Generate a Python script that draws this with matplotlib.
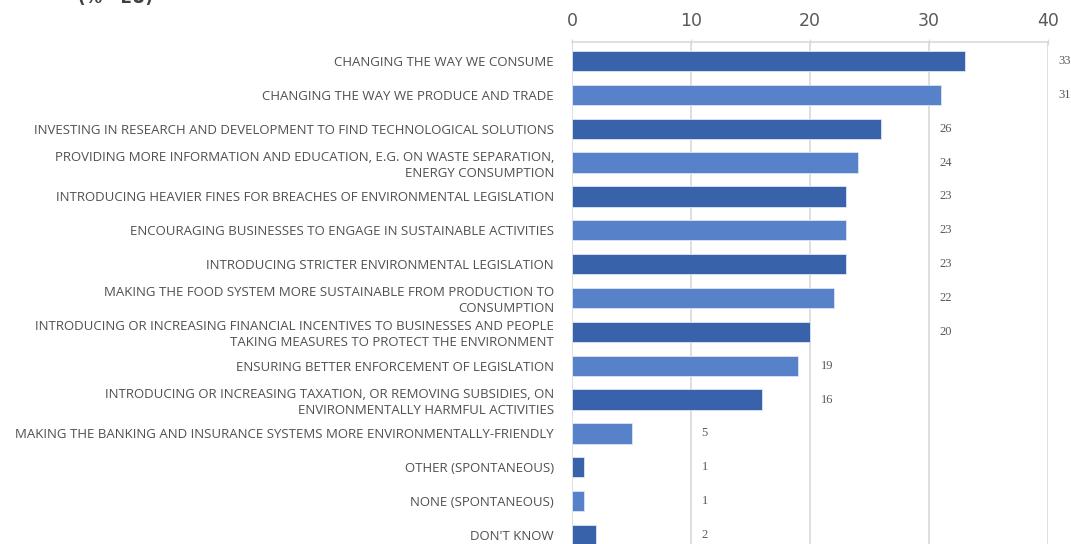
import matplotlib.pyplot as plt
import numpy as np

CATEGORIES = [
    "CHANGING THE WAY WE CONSUME",
    "CHANGING THE WAY WE PRODUCE AND TRADE",
    "INVESTING IN RESEARCH AND DEVELOPMENT TO FIND TECHNOLOGICAL SOLUTIONS",
    "PROVIDING MORE INFORMATION AND EDUCATION, E.G. ON WASTE SEPARATION,\nENERGY CONSUMPTION",
    "INTRODUCING HEAVIER FINES FOR BREACHES OF ENVIRONMENTAL LEGISLATION",
    "ENCOURAGING BUSINESSES TO ENGAGE IN SUSTAINABLE ACTIVITIES",
    "INTRODUCING STRICTER ENVIRONMENTAL LEGISLATION",
    "MAKING THE FOOD SYSTEM MORE SUSTAINABLE FROM PRODUCTION TO\nCONSUMPTION",
    "INTRODUCING OR INCREASING FINANCIAL INCENTIVES TO BUSINESSES AND PEOPLE\nTAKING MEASURES TO PROTECT THE ENVIRONMENT",
    "ENSURING BETTER ENFORCEMENT OF LEGISLATION",
    "INTRODUCING OR INCREASING TAXATION, OR REMOVING SUBSIDIES, ON\nENVIRONMENTALLY HARMFUL ACTIVITIES",
    "MAKING THE BANKING AND INSURANCE SYSTEMS MORE ENVIRONMENTALLY-FRIENDLY",
    "OTHER (SPONTANEOUS)",
    "NONE (SPONTANEOUS)",
    "DON'T KNOW",
]
VALUES = [33, 31, 26, 24, 23, 23, 23, 22, 20, 19, 16, 5, 1, 1, 2]
X_TICKS = [0, 10, 20, 30, 40]
TITLE = "(% - EU)"

DARK = "#3863ab"
LIGHT = "#5782ca"
TEXT = "#505050"

fig = plt.figure(figsize=(10.71, 5.44), dpi=100)
ax = fig.add_axes([572 / 1071, -10 / 544, 476 / 1071, 512 / 544])

y = np.arange(len(VALUES))
colors = [DARK if i % 2 == 0 else LIGHT for i in y]
ax.barh(y, VALUES, height=0.6, color=colors, edgecolor="#dce6f4", linewidth=0.6, zorder=3)

ax.set_xlim(0, 40)
ax.set_ylim(len(VALUES) - 1 + 0.56, -0.56)
ax.xaxis.tick_top()
ax.set_xticks(X_TICKS)
ax.tick_params(axis="x", colors="#d9d9d9", labelcolor="#595959", labelsize=12.5, length=4,
               direction="inout", pad=7)
ax.grid(axis="x", color="#d9d9d9", linewidth=1.2, zorder=0)
for side in ("left", "right", "bottom"):
    ax.spines[side].set_visible(False)
ax.spines["top"].set_color("#d9d9d9")
ax.spines["top"].set_linewidth(1.2)

ax.set_yticks(y)
ax.set_yticklabels(CATEGORIES, fontsize=9.5, color=TEXT, family="Open Sans", linespacing=1.25)
ax.tick_params(axis="y", length=0, pad=13)
for lbl in ax.get_yticklabels():
    lbl.set_horizontalalignment("right")

# value labels sit just right of the next gridline, as in the original
for i, v in enumerate(VALUES):
    xpos = (v // 10 + 1) * 10 if v % 10 else v + 10
    ax.text(xpos + 0.9, i, str(v), va="center", ha="left", fontsize=9,
            color="#595959", family="Liberation Serif", clip_on=False)

fig.text(78 / 1071, 1 - 3 / 544, TITLE, fontsize=12, fontweight="bold",
         color="#404040", va="baseline", ha="left")

fig.savefig("out.png", dpi=100)
